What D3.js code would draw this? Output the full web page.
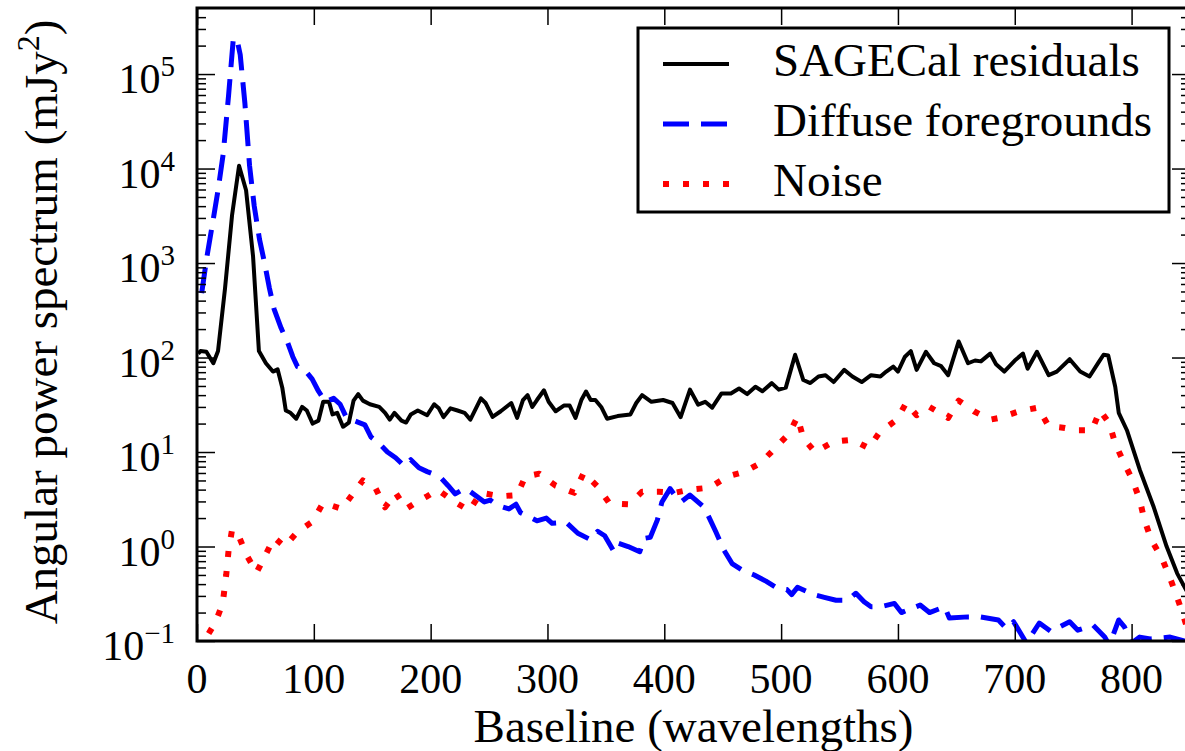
<!DOCTYPE html>
<html>
<head>
<meta charset="utf-8">
<script src="https://cdn.jsdelivr.net/npm/d3@7"></script>
</head>
<body style="margin:0; background:#fff">
<svg id="chart" width="1185" height="751"></svg>
<script>
// SAGECal residuals (black, solid)
const residualX = [1, 3, 8, 14, 18, 24, 30, 36, 42, 48, 53, 59, 65, 69, 73, 76, 80, 85, 90, 94, 99, 104, 108, 113, 116, 120, 125, 130, 134, 138, 142, 148, 156, 161, 165, 169, 175, 179, 183, 189,
  197, 203, 207, 211, 217, 223, 229, 234, 243, 247, 253, 260, 269, 274, 279, 283, 287, 291, 297, 301, 307, 314, 319, 324, 329, 333, 337, 341, 346, 351, 360, 371, 376, 381, 389,
  399, 407, 414, 422, 429, 435, 441, 449, 457, 464, 471, 478, 484, 492, 498, 504, 512, 519, 525, 532, 538, 545, 554, 561, 569, 577, 585,
  590, 596, 600, 606, 611, 616, 624, 631, 637, 643, 652, 660, 666, 671, 679, 684, 691, 700, 707, 711, 719, 729, 736, 747, 756, 764, 772, 776, 780,
  786, 789, 796, 807, 819, 830, 839, 846, 850];
const residualY = [110, 117, 115, 87, 117, 540, 3200, 10700, 5900, 1170, 117, 87, 71, 75, 48, 27.5, 26, 22.5, 30, 27.5, 20, 21.5, 34, 34, 25, 26, 18.5, 20.5, 35, 41, 35, 32, 30, 26, 22, 26, 21.5, 20.5, 25, 27.5,
  24.5, 32, 29, 23.4, 29, 27.5, 26, 22, 37, 33, 23.5, 27, 33, 23, 35.5, 40, 30, 35.5, 45, 34, 27, 31, 31, 23, 35.5, 43.6, 35.5, 35.5, 30, 22.5, 24, 25, 33, 40, 34,
  35.5, 33, 23.4, 45.7, 31.7, 34, 29.5, 41.7, 41.7, 47, 41, 49, 44, 53.6, 45.7, 48, 107, 57.8, 53.7, 63, 65, 55, 74, 63, 55, 65, 63,
  71, 80, 71, 102, 117, 74, 115, 87, 81, 65, 148, 87, 93, 91, 110, 85, 71, 93, 110, 76, 115, 65, 71, 96, 71, 63, 90, 107, 105,
  49, 26, 17, 6.5, 2.6, 1.0, 0.52, 0.36, 0.29];

// Diffuse foregrounds (blue, dashed)
const foregroundX = [4, 8.5, 14, 18, 22.5, 27, 31, 34, 37, 41, 45, 49, 53.5, 58, 62, 66, 72, 77.5, 82, 86, 91.5, 98.6, 104, 110, 117, 122.5, 128, 136.6, 143.7, 149, 156, 163, 170, 177.5, 183,
  190, 197, 203, 209, 215, 221, 229, 234, 246, 251, 257, 267, 273, 277, 291, 299, 304, 316, 326, 337, 343, 349, 357, 361, 369, 379, 383,
  388, 394, 398, 405, 411, 415, 422, 434, 438, 444, 451, 458, 467, 477, 487, 497, 505, 509, 514, 528, 537, 547, 557, 564, 571, 577, 585,
  597, 603, 619, 627, 640, 644, 660, 670, 686, 693, 699, 710, 721, 731, 747, 754, 767, 777, 781, 789, 794, 800, 807, 816, 833, 845, 850];
const foregroundY = [480, 1170, 2950, 5900, 14500, 59000, 230000, 240000, 160000, 49000, 10700, 4000, 1780, 980, 540, 325, 205, 145, 102, 80, 76, 59, 44, 34, 37, 32, 23, 21, 19.4, 14.4, 12.3, 10, 8.7, 7.1, 8.3,
  6.8, 6.2, 5.8, 5.3, 4.4, 3.6, 4.1, 3.8, 2.96, 3.1, 2.74, 2.5, 2.8, 2.28, 1.87, 2.0, 1.76, 1.8, 1.38, 1.18, 1.45, 1.3, 0.88, 1.08, 1.0, 0.88, 1.22,
  1.25, 1.9, 2.96, 4.1, 3.2, 3.0, 3.5, 2.6, 2.07, 1.44, 0.92, 0.66, 0.56, 0.5, 0.43, 0.36, 0.35, 0.31, 0.37, 0.31, 0.29, 0.27, 0.27, 0.32, 0.26, 0.23, 0.23,
  0.25, 0.2, 0.24, 0.2, 0.23, 0.175, 0.18, 0.18, 0.167, 0.135, 0.16, 0.095, 0.155, 0.126, 0.16, 0.13, 0.147, 0.11, 0.09, 0.167, 0.14, 0.095, 0.11, 0.105, 0.11, 0.1, 0.095];

// Noise (red, dotted)
const noiseX = [10, 16, 22, 25, 27, 30, 35, 42, 51, 59, 66, 75, 86, 99, 108, 124, 134, 142, 153, 161, 170, 179, 189,
  197, 206, 219, 233, 243, 260, 274, 281, 293, 307, 323, 331, 343, 353, 370, 381,
  395, 409, 422, 439, 454, 469, 482, 495, 507, 514, 519, 529, 545, 561, 575, 584,
  599, 607, 616, 627, 643, 652, 665, 679, 687, 704, 720, 729, 743, 754, 766, 773, 781,
  786, 793, 801, 807, 811, 817, 826, 833, 839, 844, 850];
const noiseY = [0.12, 0.16, 0.25, 0.5, 0.9, 1.5, 1.36, 0.83, 0.53, 0.83, 1.24, 1.0, 1.43, 1.84, 2.9, 2.5, 3.7, 5.0, 4.1, 2.6, 3.7, 2.5, 3.0,
  3.4, 4.0, 3.05, 2.4, 3.7, 3.4, 3.5, 5.5, 5.9, 4.4, 3.7, 6.0, 4.3, 2.87, 2.8, 3.8,
  3.8, 3.7, 4.0, 4.2, 5.5, 6.2, 7.6, 11, 15.8, 23.6, 14, 10, 12.9, 13.5, 11, 16,
  22, 33, 24.5, 30, 23, 35, 27, 22, 23, 27, 29.5, 18.8, 18, 17, 17, 27.6, 20,
  12.3, 7.9, 5, 3.1, 1.9, 1.17, 0.75, 0.46, 0.29, 0.19, 0.11];

const seriesNames = ["SAGECal residuals", "Diffuse foregrounds", "Noise"];
const xTicks = [0, 100, 200, 300, 400, 500, 600, 700, 800];
const yTicks = [0.1, 1, 10, 100, 1e3, 1e4, 1e5];
const yTickExp = ["\u22121", "0", "1", "2", "3", "4", "5"];

const serif = "'Liberation Serif'";
const svg = d3.select("#chart");
const x = d3.scaleLinear().domain([0, 850]).range([197, 1190]);
const y = d3.scaleLog().domain([0.1, 5e5]).range([641, 8]);

// minor ticks on log axis
const yMinor = [];
for (let d = -1; d <= 5; d++) {
  for (let k = 2; k <= 9; k++) {
    const v = k * Math.pow(10, d);
    if (v < 5e5) yMinor.push(v);
  }
}

svg.append("clipPath").attr("id", "plotClip")
  .append("rect").attr("x", 197).attr("y", 8).attr("width", 993).attr("height", 633);

const plot = svg.append("g").attr("clip-path", "url(#plotClip)");

const line = d3.line().x(d => x(d[0])).y(d => y(d[1]));
const series = [
  {xs: residualX, ys: residualY, color: "#000", width: 4, dash: null},
  {xs: foregroundX, ys: foregroundY, color: "#0000ff", width: 5, dash: "26,12"},
  {xs: noiseX, ys: noiseY, color: "#ff0000", width: 6, dash: "6,14"}
];

series.forEach(s => {
  plot.append("path")
    .datum(d3.zip(s.xs, s.ys))
    .attr("d", line)
    .attr("fill", "none")
    .attr("stroke", s.color)
    .attr("stroke-width", s.width)
    .attr("stroke-linejoin", "round")
    .attr("stroke-dasharray", s.dash);
});

// ticks (inward on all four sides)
function tickAxis(axis, tr) {
  const g = svg.append("g").attr("transform", tr).call(axis);
  g.select(".domain").remove();
  g.selectAll("text").remove();
  g.selectAll("line").attr("stroke", "#000").attr("stroke-width", 1.5);
  return g;
}
tickAxis(d3.axisBottom(x).tickValues(xTicks).tickSize(-17), "translate(0,641)");
tickAxis(d3.axisTop(x).tickValues(xTicks).tickSize(-17), "translate(0,8)");
tickAxis(d3.axisLeft(y).tickValues(yTicks).tickSize(-18), "translate(197,0)");
tickAxis(d3.axisLeft(y).tickValues(yMinor).tickSize(-9), "translate(197,0)");
tickAxis(d3.axisRight(y).tickValues(yTicks).tickSize(-18), "translate(1190,0)");
tickAxis(d3.axisRight(y).tickValues(yMinor).tickSize(-9), "translate(1190,0)");

// frame
svg.append("rect")
  .attr("x", 197).attr("y", 8).attr("width", 993).attr("height", 633)
  .attr("fill", "none").attr("stroke", "#000").attr("stroke-width", 3);

// x tick labels
svg.append("g").selectAll("text").data(xTicks).join("text")
  .attr("x", d => x(d))
  .attr("y", 693)
  .attr("text-anchor", "middle")
  .attr("font-family", serif)
  .attr("font-size", 42)
  .text(d => d);

// y tick labels with superscript exponents
const yl = svg.append("g").selectAll("text").data(yTicks).join("text")
  .attr("x", 175)
  .attr("y", d => y(d) + 19)
  .attr("text-anchor", "end")
  .attr("font-family", serif)
  .attr("font-size", 42);
yl.append("tspan").text("10");
yl.append("tspan").attr("font-size", 29).attr("dy", -17).text((d, i) => yTickExp[i]);

// axis titles
svg.append("text")
  .attr("x", x(425)).attr("y", 742)
  .attr("text-anchor", "middle")
  .attr("font-family", serif)
  .attr("font-size", 47)
  .text("Baseline (wavelengths)");

const yt = svg.append("text")
  .attr("transform", "translate(57,322) rotate(-90)")
  .attr("text-anchor", "middle")
  .attr("font-family", serif)
  .attr("font-size", 47);
yt.append("tspan").text("Angular power spectrum (mJy");
yt.append("tspan").attr("font-size", 32).attr("dy", -18).text("2");
yt.append("tspan").attr("dy", 18).text(")");

// legend
const legend = svg.append("g");
legend.append("rect")
  .attr("x", 638).attr("y", 28).attr("width", 531).attr("height", 184)
  .attr("fill", "#fff").attr("stroke", "#000").attr("stroke-width", 3);
seriesNames.forEach((name, i) => {
  const cy = 64 + i * 60;
  legend.append("line")
    .attr("x1", 663).attr("x2", 729).attr("y1", cy).attr("y2", cy)
    .attr("stroke", series[i].color)
    .attr("stroke-width", series[i].width)
    .attr("stroke-dasharray", series[i].dash);
  legend.append("text")
    .attr("x", 773).attr("y", cy + 12)
    .attr("font-family", serif)
    .attr("font-size", 47)
    .text(name);
});
</script>
</body>
</html>
